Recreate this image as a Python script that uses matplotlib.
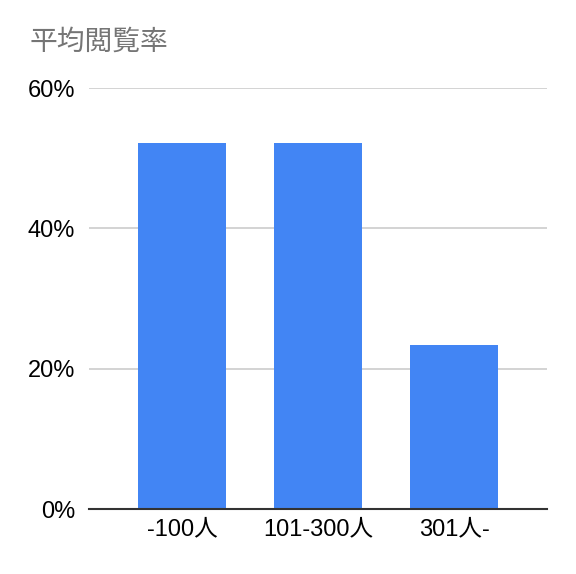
import matplotlib
matplotlib.use("Agg")
import matplotlib.pyplot as plt
from matplotlib.ticker import FuncFormatter

plt.rcParams['font.family'] = ['Liberation Sans', 'Noto Sans CJK JP', 'DejaVu Sans']

title = "平均閲覧率"
categories = ["-100人", "101-300人", "301人-"]
values = [52.2, 52.2, 23.4]
yticks = [0, 20, 40, 60]

fig = plt.figure(figsize=(5.76, 5.74), dpi=100)
ax = fig.add_axes([89/576, (574-509)/574, (547-89)/576, (509-88)/574])

x = list(range(len(categories)))
ax.bar(x, values, width=0.647, color="#4285F4", zorder=3)

ax.set_xlim(-0.684, 2.684)
ax.set_ylim(0, 60)
ax.set_yticks(yticks)
ax.yaxis.set_major_formatter(FuncFormatter(lambda v, p: f"{int(v)}%"))
ax.set_xticks(x)
ax.set_xticklabels(categories)
ax.grid(axis='y', color="#cccccc", linewidth=1.2, zorder=0)
ax.grid(axis='x', visible=False)
for s in ['top', 'right', 'left']:
    ax.spines[s].set_visible(False)
ax.spines['bottom'].set_color("#333333")
ax.spines['bottom'].set_linewidth(1.5)
ax.spines['bottom'].set_zorder(4)
ax.tick_params(axis='both', length=0, labelsize=17, colors="#000000")
ax.tick_params(axis='y', pad=10)
ax.tick_params(axis='x', pad=7)

fig.text(30/576, 1 - 42/574, title, fontsize=20, color="#757575",
         family=['Noto Sans CJK JP', 'DejaVu Sans'], va='center', ha='left')

fig.savefig("out.png", dpi=100)
